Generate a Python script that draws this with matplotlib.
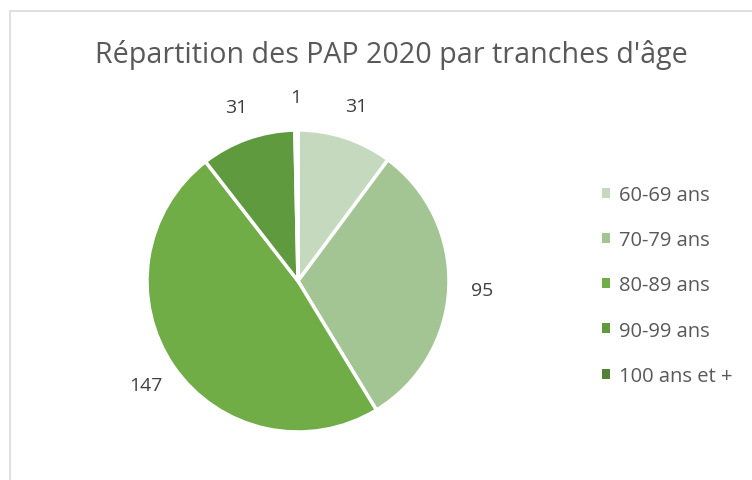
import matplotlib.pyplot as plt
from matplotlib.patches import Rectangle

# tranches d'age et nombre de PAP
categories = ['60-69 ans', '70-79 ans', '80-89 ans', '90-99 ans', '100 ans et +']
values = [31, 95, 147, 31, 1]
colors = ['#C5D9BE', '#A3C593', '#70AD47', '#5F9A3F', '#548235']

plt.rcParams['font.family'] = ['Open Sans', 'DejaVu Sans']
W, H = 752, 481
fig = plt.figure(figsize=(W / 100, H / 100), dpi=100)

# light frame of the chart area
fig.patches.append(Rectangle((10 / W, -0.1), 1.0, (H - 12) / H + 0.1,
                             transform=fig.transFigure, fill=False,
                             edgecolor='#D9D9D9', linewidth=1.2))

fig.text(391 / W, 1 - 55 / H, "Répartition des PAP 2020 par tranches d'âge",
         ha='center', va='center', fontsize=20.6, color='#595959')

# pie axes: centre (298, 282), radius 151 px
r = 151
ax = fig.add_axes([(298 - r) / W, (H - 282 - r) / H, 2 * r / W, 2 * r / H])
total = sum(values)
wedges, _, autotexts = ax.pie(values, colors=colors, startangle=90, counterclock=False,
                              wedgeprops=dict(edgecolor='white', linewidth=2.5),
                              autopct=lambda p: f"{round(p * total / 100)}",
                              pctdistance=1.22,
                              textprops=dict(fontsize=14, color='#404040'))
ax.set_xlim(-1, 1)
ax.set_ylim(-1, 1)
ax.set_aspect('equal')

leg = fig.legend(wedges, categories, loc='upper left',
                 bbox_to_anchor=(584 / W, 1 - 168 / H), frameon=False,
                 fontsize=14.5, labelcolor='#595959',
                 handlelength=0.38, handleheight=0.38, handletextpad=0.45,
                 labelspacing=1.25)
for h in leg.legend_handles:
    h.set_edgecolor('none')

fig.savefig('out.png', dpi=100)
